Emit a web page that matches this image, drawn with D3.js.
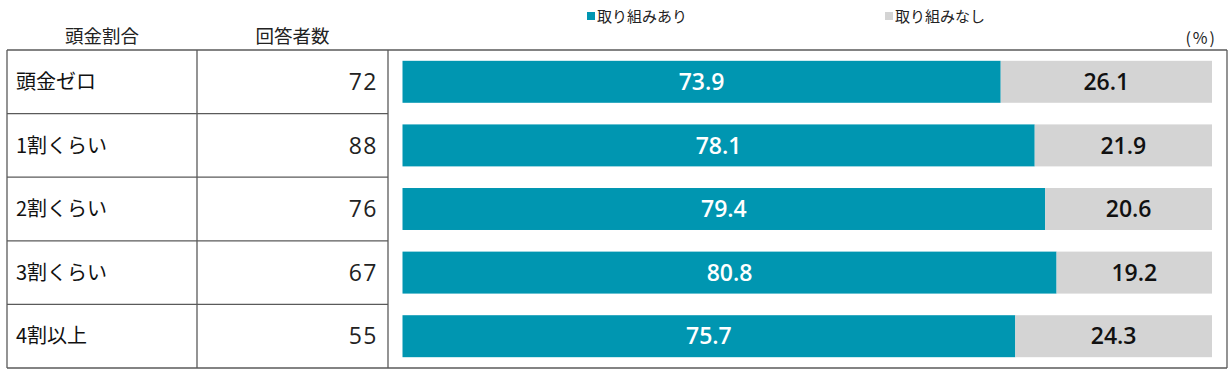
<!DOCTYPE html>
<html><head><meta charset="utf-8">
<script src="https://cdn.jsdelivr.net/npm/d3@7"></script>
<style>
html,body{margin:0;padding:0;background:#fff;}
svg{display:block;font-family:"Noto Sans CJK JP","Noto Sans",sans-serif;}
.num{font-family:"Open Sans","Noto Sans",sans-serif;}
</style></head>
<body>
<svg id="chart" width="1232" height="372"></svg>
<script>
const categories = ["頭金ゼロ","1割くらい","2割くらい","3割くらい","4割以上"];
const respondents = [72, 88, 76, 67, 55];
const withEffort = [73.9, 78.1, 79.4, 80.8, 75.7];
const withoutEffort = [26.1, 21.9, 20.6, 19.2, 24.3];
const seriesNames = ["取り組みあり","取り組みなし"];
const headers = ["頭金割合","回答者数"];
const unitLabel = "(%)";

const svg = d3.select("#chart");
const colors = ["#0096b1", "#d4d4d4"];
const lineColor = "#5a5a5a";

const tableLeft = 7, col1 = 197, col2 = 388, boxRight = 1227;
const gridTop = 50, gridBottom = 368;

const y = d3.scaleBand().domain(categories).range([gridTop, gridBottom]).paddingInner(0.34).paddingOuter(0.17);
const rowY = d3.scaleBand().domain(categories).range([gridTop, gridBottom]).padding(0);
const x = d3.scaleLinear().domain([0, 100]).range([402.5, 1212]);

const g = svg.append("g");
const hLines = [gridTop].concat(categories.map(c => rowY(c) + rowY.bandwidth()));
g.selectAll("line.h").data(hLines).join("line")
  .attr("x1", tableLeft).attr("x2", col2)
  .attr("y1", d => d).attr("y2", d => d)
  .attr("stroke", lineColor).attr("stroke-width", 1.3);
g.selectAll("line.b").data([gridTop, gridBottom]).join("line")
  .attr("x1", col2).attr("x2", boxRight)
  .attr("y1", d => d).attr("y2", d => d)
  .attr("stroke", lineColor).attr("stroke-width", 1.3);
g.selectAll("line.v").data([tableLeft, col1, col2, boxRight]).join("line")
  .attr("x1", d => d).attr("x2", d => d)
  .attr("y1", gridTop).attr("y2", gridBottom)
  .attr("stroke", lineColor).attr("stroke-width", 1.3);

svg.selectAll("text.hdr").data(headers).join("text")
  .attr("x", (d, i) => i === 0 ? (tableLeft + col1) / 2 : (col1 + col2) / 2)
  .attr("y", 43).attr("text-anchor", "middle")
  .attr("font-size", 18.5).attr("fill", "#222").text(d => d);

svg.selectAll("text.cat").data(categories).join("text")
  .attr("x", 16).attr("y", d => rowY(d) + rowY.bandwidth() / 2)
  .attr("dy", "0.36em").attr("font-size", 20).attr("fill", "#111").text(d => d);
svg.selectAll("text.n").data(respondents).join("text")
  .attr("class", "num")
  .attr("x", 378).attr("y", (d, i) => rowY(categories[i]) + rowY.bandwidth() / 2)
  .attr("dy", "0.36em").attr("text-anchor", "end")
  .attr("font-size", 23).attr("letter-spacing", 1.5).attr("fill", "#222").text(d => d);

const stacked = categories.map((c, i) => ({c, a: withEffort[i], b: withoutEffort[i]}));
svg.selectAll("rect.a").data(stacked).join("rect")
  .attr("x", x(0)).attr("y", d => y(d.c))
  .attr("width", d => x(d.a) - x(0)).attr("height", y.bandwidth())
  .attr("fill", colors[0]);
svg.selectAll("rect.b").data(stacked).join("rect")
  .attr("x", d => x(d.a)).attr("y", d => y(d.c))
  .attr("width", d => x(d.a + d.b) - x(d.a)).attr("height", y.bandwidth())
  .attr("fill", colors[1]);

svg.selectAll("text.va").data(stacked).join("text")
  .attr("class", "num")
  .attr("x", d => (x(0) + x(d.a)) / 2).attr("y", d => y(d.c) + y.bandwidth() / 2)
  .attr("dy", "0.36em").attr("text-anchor", "middle")
  .attr("font-size", 23).attr("font-weight", 600).attr("fill", "#fff")
  .text(d => d.a.toFixed(1));
svg.selectAll("text.vb").data(stacked).join("text")
  .attr("class", "num")
  .attr("x", d => (x(d.a) + x(d.a + d.b)) / 2).attr("y", d => y(d.c) + y.bandwidth() / 2)
  .attr("dy", "0.36em").attr("text-anchor", "middle")
  .attr("font-size", 23).attr("font-weight", 600).attr("fill", "#111")
  .text(d => d.b.toFixed(1));

const legX = [587, 885];
const leg = svg.selectAll("g.leg").data(seriesNames).join("g")
  .attr("transform", (d, i) => `translate(${legX[i]},0)`);
leg.append("rect").attr("x", 0).attr("y", 12).attr("width", 8).attr("height", 8)
  .attr("fill", (d, i) => colors[i]);
leg.append("text").attr("x", 10).attr("y", 22).attr("font-size", 15)
  .attr("fill", "#222").text(d => d);

svg.append("text").attr("x", 1217).attr("y", 44).attr("text-anchor", "end")
  .attr("font-size", 16).attr("letter-spacing", 2).attr("fill", "#222").text(unitLabel);
</script>
</body></html>
